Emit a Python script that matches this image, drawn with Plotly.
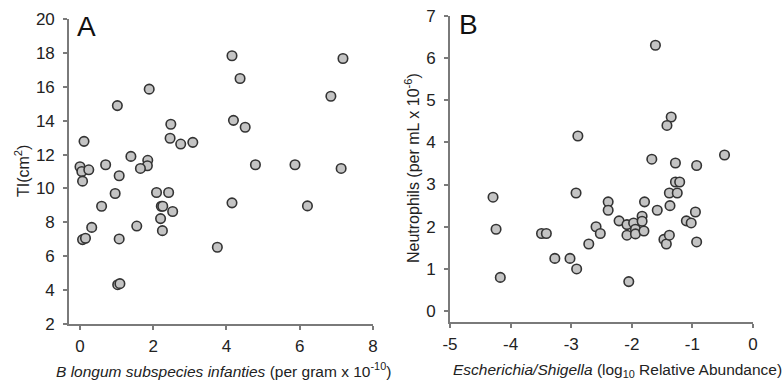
import plotly.graph_objects as go

# Panel A data: B longum subspecies infanties (per gram x 1e-10) vs TI (cm2)
a_x = [4.15, 7.18, 4.37, 1.89, 6.85, 1.02, 4.19, 4.51, 2.48, 2.46, 2.75, 3.08, 0.11,
       1.39, 1.85, 1.84, 1.65, 0.70, 4.79, 5.87, 7.13, 0.00, 0.05, 0.24, 1.07, 0.07,
       0.96, 2.09, 2.42, 0.59, 2.22, 2.26, 4.15, 6.21, 2.53, 0.32, 1.55, 2.20, 2.25,
       0.07, 0.15, 1.07, 3.75, 1.03, 1.09]
a_y = [17.83, 17.67, 16.49, 15.86, 15.44, 14.89, 14.02, 13.61, 13.79, 12.96, 12.62, 12.72, 12.78,
       11.89, 11.66, 11.34, 11.18, 11.40, 11.40, 11.40, 11.18, 11.28, 11.00, 11.10, 10.75, 10.43,
       9.70, 9.76, 9.76, 8.95, 8.95, 8.95, 9.15, 8.97, 8.64, 7.70, 7.78, 8.22, 7.51,
       6.98, 7.06, 7.02, 6.53, 4.32, 4.38]

# Panel B data: Escherichia/Shigella (log10 rel. abundance) vs Neutrophils (per mL x 1e-6)
b_x = [-1.61, -1.35, -1.42, -2.89, -1.67, -1.28, -0.93, -0.47, -1.28, -1.21,
       -4.29, -4.24, -4.17, -2.92, -3.49, -3.41, -3.27, -3.02, -2.91, -2.71,
       -2.59, -2.52, -2.39, -2.39, -2.21, -2.08, -2.08, -1.97, -1.94, -1.94,
       -1.83, -1.83, -1.80, -1.79, -2.05, -1.58, -1.38, -1.25, -1.37, -1.47,
       -1.43, -1.38, -1.10, -1.02, -0.95, -0.93]
b_y = [6.30, 4.60, 4.40, 4.15, 3.60, 3.51, 3.45, 3.70, 3.06, 3.06,
       2.70, 1.94, 0.80, 2.80, 1.84, 1.84, 1.25, 1.25, 1.00, 1.59,
       2.00, 1.84, 2.59, 2.39, 2.14, 2.05, 1.80, 2.09, 1.94, 1.83,
       2.25, 2.13, 1.90, 2.59, 0.70, 2.39, 2.80, 2.80, 2.50, 1.70,
       1.59, 1.80, 2.14, 2.09, 2.35, 1.64]

a_xticks = [0, 2, 4, 6, 8]
a_yticks = [2, 4, 6, 8, 10, 12, 14, 16, 18, 20]
b_xticks = [-5, -4, -3, -2, -1, 0]
b_xticklabels = ["-5", "-4", "-3", "-2", "-1", "0"]
b_yticks = [0, 1, 2, 3, 4, 5, 6, 7]

FONT = "Liberation Sans, Arial, sans-serif"
marker = dict(symbol="circle", size=9.5, color="#c4c4c4", line=dict(color="#333333", width=1.6))

fig = go.Figure()
fig.add_trace(go.Scatter(x=a_x, y=a_y, mode="markers", marker=marker, xaxis="x", yaxis="y",
                         showlegend=False, cliponaxis=False))
fig.add_trace(go.Scatter(x=b_x, y=b_y, mode="markers", marker=marker, xaxis="x2", yaxis="y2",
                         showlegend=False, cliponaxis=False))

W, H = 783, 381
axcommon = dict(showgrid=False, zeroline=False, showline=True, linecolor="#7a7a7a", linewidth=1.6,
                ticks="outside", ticklen=4, tickwidth=1.5, tickcolor="#7a7a7a", automargin=False,
                tickfont=dict(family=FONT, size=17, color="#222"), fixedrange=True)

fig.update_layout(
    width=W, height=H,
    margin=dict(l=0, r=0, t=0, b=0, pad=0, autoexpand=False),
    paper_bgcolor="white", plot_bgcolor="white",
    showlegend=False,
    font=dict(family=FONT, color="#222"),
    xaxis=dict(domain=[69 / W, 373 / W], range=[-0.3, 8], tickvals=a_xticks, anchor="y",
               ticklabelstandoff=2, **axcommon),
    yaxis=dict(domain=[1 - 324 / H, 1 - 19 / H], range=[2, 20], tickvals=a_yticks, anchor="x",
               ticklabelstandoff=5, **axcommon),
    xaxis2=dict(domain=[450 / W, 753 / W], range=[-5, 0], tickvals=b_xticks, ticktext=b_xticklabels,
                anchor="y2", ticklabelstandoff=2, **axcommon),
    yaxis2=dict(domain=[1 - 321.7 / H, 1 - 15.7 / H], range=[-0.25, 7], tickvals=b_yticks, anchor="x2",
                ticklabelstandoff=5, **axcommon),
)

ann = []
ann.append(dict(text="A", x=75 / W, y=1 - 9 / H, xref="paper", yref="paper", xanchor="left", yanchor="top",
                showarrow=False, font=dict(family=FONT, size=28, color="#111")))
ann.append(dict(text="B", x=457 / W, y=1 - 7 / H, xref="paper", yref="paper", xanchor="left", yanchor="top",
                showarrow=False, font=dict(family=FONT, size=28, color="#111")))
ann.append(dict(text="TI(cm<sup>2</sup>)", x=22 / W, y=1 - 171 / H, xref="paper", yref="paper",
                xanchor="center", yanchor="middle", textangle=-90, showarrow=False,
                font=dict(family=FONT, size=16, color="#222")))
ann.append(dict(text="Neutrophils (per mL x 10<sup>-6</sup>)", x=412 / W, y=1 - 168 / H, xref="paper", yref="paper",
                xanchor="center", yanchor="middle", textangle=-90, showarrow=False,
                font=dict(family=FONT, size=16, color="#222")))
ann.append(dict(text="<i>B longum subspecies infanties</i> (per gram x 10<sup>-10</sup>)", x=223 / W, y=1 - 370 / H,
                xref="paper", yref="paper", xanchor="center", yanchor="middle", showarrow=False,
                font=dict(family=FONT, size=15.5, color="#222")))
ann.append(dict(text="<i>Escherichia/Shigella</i> (log<sub>10</sub> Relative Abundance)", x=617 / W, y=1 - 370 / H,
                xref="paper", yref="paper", xanchor="center", yanchor="middle", showarrow=False,
                font=dict(family=FONT, size=15.5, color="#222")))
fig.update_layout(annotations=ann)

fig.write_html("out.html", config={"displayModeBar": False},
               post_script="document.body.style.margin='0';document.body.style.padding='0';"
                           "document.documentElement.style.overflow='hidden';")
